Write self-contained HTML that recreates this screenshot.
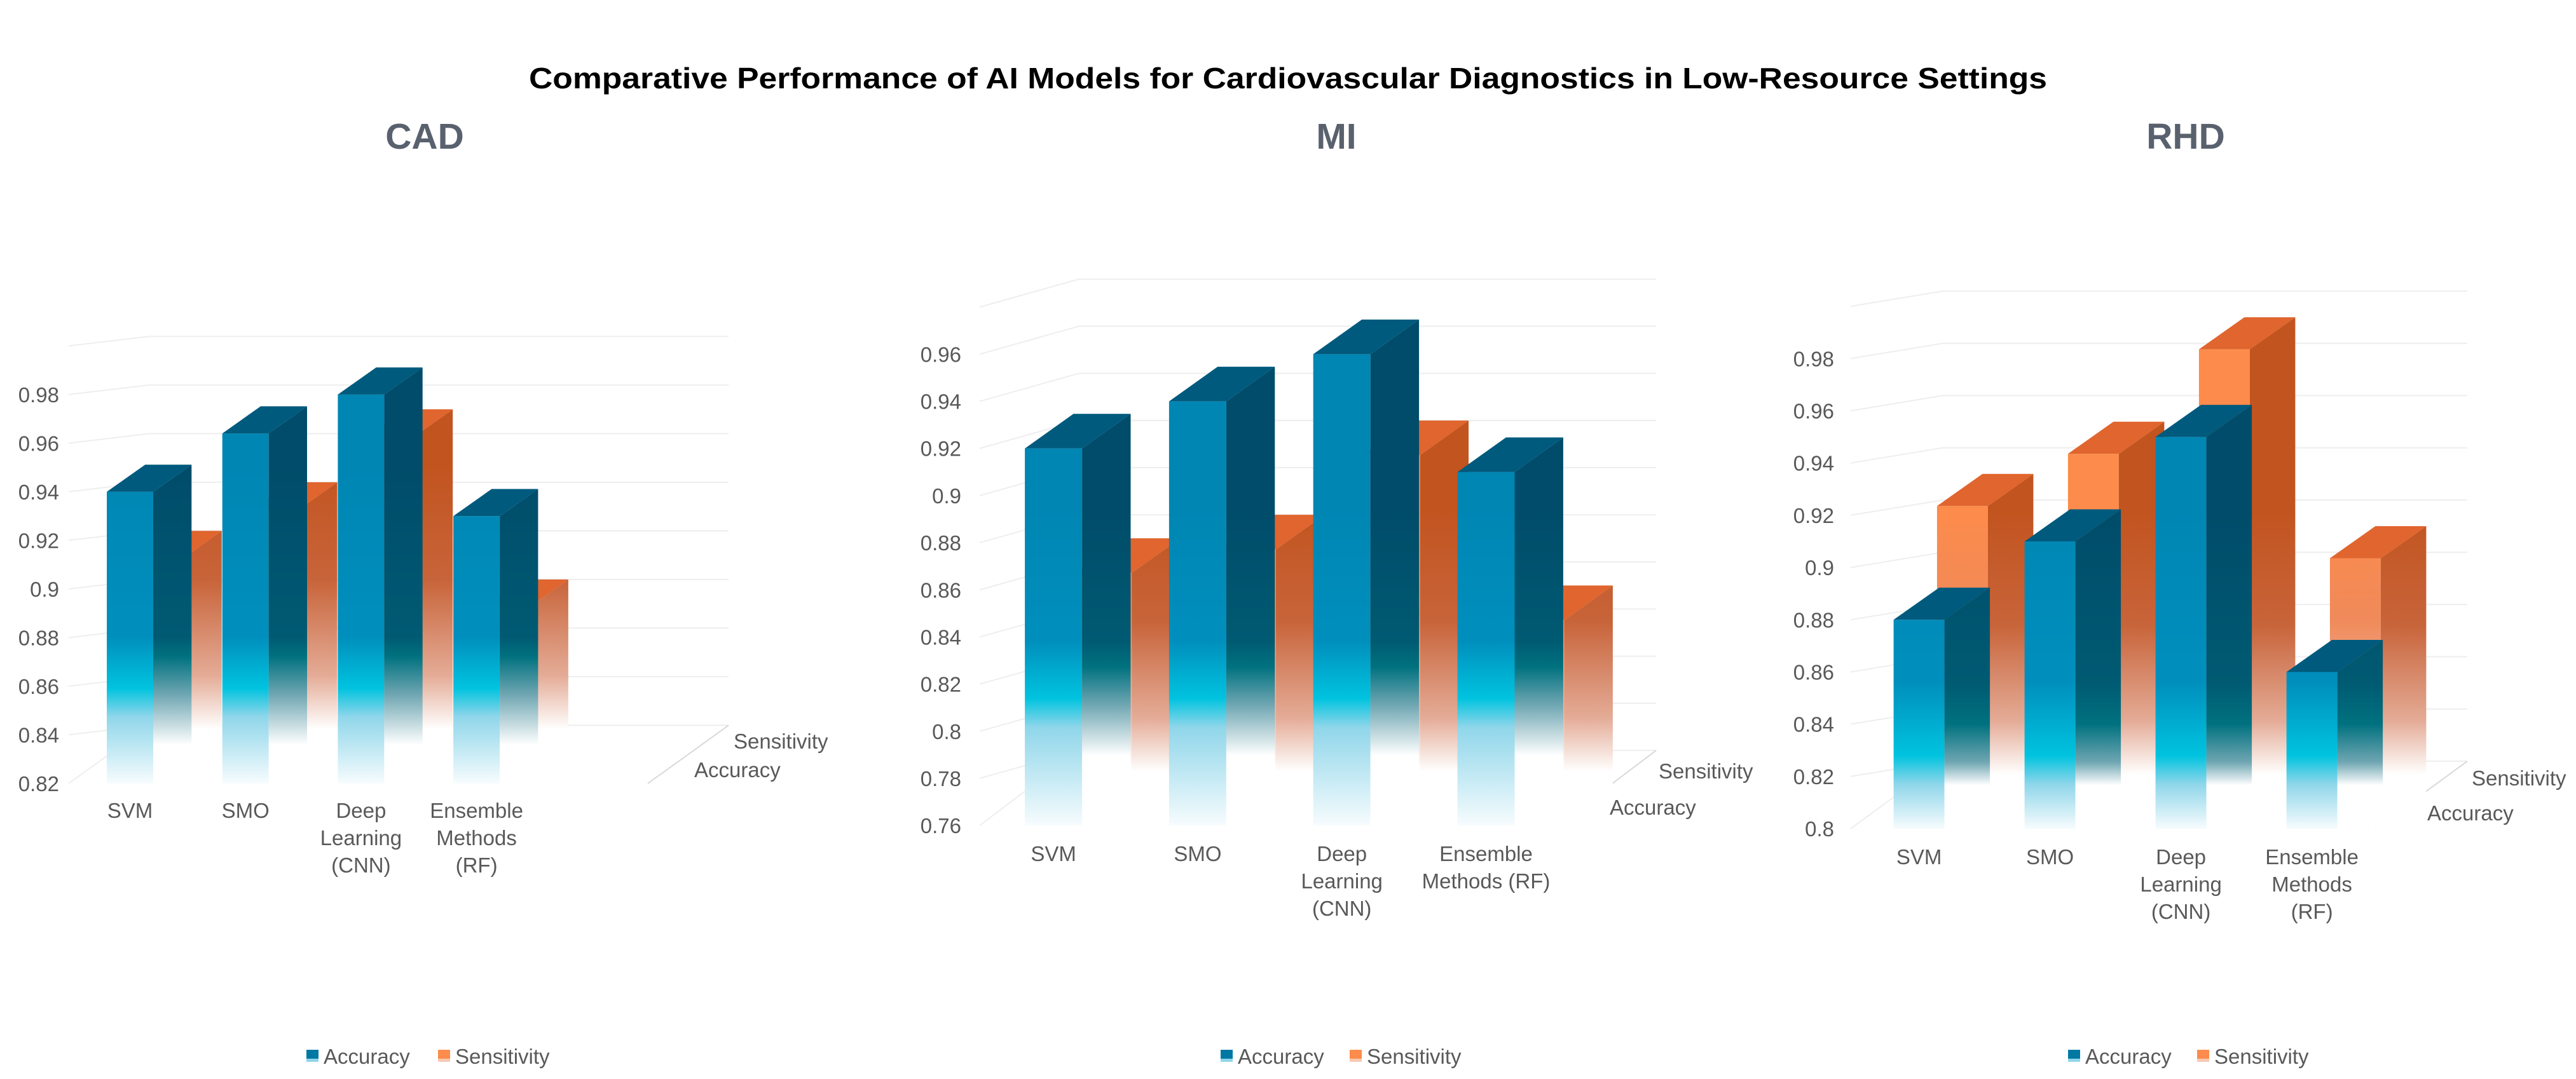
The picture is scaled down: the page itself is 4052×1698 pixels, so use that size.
<!DOCTYPE html>
<html><head><meta charset="utf-8">
<style>
html,body{margin:0;padding:0;background:#fff;}
svg{display:block;}
text{font-family:"Liberation Sans",Arial,sans-serif;}
</style></head>
<body>
<svg id="chart" xmlns="http://www.w3.org/2000/svg" width="4052" height="1698" viewBox="0 0 4052 1698">
<rect width="4052" height="1698" fill="#fff"/>
<defs id="defs"></defs>
<text x="2026" y="139" text-anchor="middle" font-size="46" font-weight="bold" fill="#000" textLength="2388" lengthAdjust="spacingAndGlyphs">Comparative Performance of AI Models for Cardiovascular Diagnostics in Low-Resource Settings</text>
</svg>
<script>
const categories = ["SVM", "SMO", "Deep Learning (CNN)", "Ensemble Methods (RF)"];
const cadAccuracy = [0.94, 0.964, 0.98, 0.93];
const cadSensitivity = [0.92, 0.94, 0.97, 0.90];
const miAccuracy = [0.92, 0.94, 0.96, 0.91];
const miSensitivity = [0.87, 0.88, 0.92, 0.85];
const rhdAccuracy = [0.88, 0.91, 0.95, 0.86];
const rhdSensitivity = [0.93, 0.95, 0.99, 0.91];
const cadTicks = [0.82, 0.84, 0.86, 0.88, 0.9, 0.92, 0.94, 0.96, 0.98];
const miTicks = [0.76, 0.78, 0.8, 0.82, 0.84, 0.86, 0.88, 0.9, 0.92, 0.94, 0.96];
const rhdTicks = [0.8, 0.82, 0.84, 0.86, 0.88, 0.9, 0.92, 0.94, 0.96, 0.98];
const seriesNames = ["Accuracy", "Sensitivity"];
const cadCatLines = [["SVM"], ["SMO"], ["Deep", "Learning", "(CNN)"], ["Ensemble", "Methods", "(RF)"]];
const miCatLines = [["SVM"], ["SMO"], ["Deep", "Learning", "(CNN)"], ["Ensemble", "Methods (RF)"]];
const rhdCatLines = [["SVM"], ["SMO"], ["Deep", "Learning", "(CNN)"], ["Ensemble", "Methods", "(RF)"]];

const NS = "http://www.w3.org/2000/svg";
const svg = document.getElementById("chart");
const defs = document.getElementById("defs");

function mk(tag, attrs, parent) {
  const e = document.createElementNS(NS, tag);
  for (const k in attrs) e.setAttribute(k, attrs[k]);
  (parent || svg).appendChild(e);
  return e;
}
function grad(id, F, stops) {
  const g = mk("linearGradient", {id: id, gradientUnits: "userSpaceOnUse", x1: 0, x2: 0, y1: F - 500, y2: F}, defs);
  stops.forEach(s => mk("stop", {offset: Math.max(0, Math.min(1, (500 - s[0]) / 500)), "stop-color": s[1]}, g));
}
function poly(pts, fill, parent) {
  return mk("polygon", {points: pts.map(p => p.join(",")).join(" "), fill: fill}, parent);
}

function drawPanel(cfg, acc, sens, ticks, catLines) {
  const p = cfg.id;
  const grp = mk("g", {});
  
  
  const L = v => cfg.y0 + (cfg.vRef - v) / 0.02 * cfg.step;
  const G = v => L(v) + cfg.g;
  const F = L(ticks[0]);
  const dx = cfg.dx, dy = cfg.dy, w = cfg.w;
  const sideWhite = Math.max(cfg.cyan - 90, -dy + 18);

  grad(p + "-bf", F, [[500, "#0086b3"], [cfg.solid, "#008fbd"], [cfg.cyan, "#00c3df"], [cfg.cyan - 45, "#8fd6ea"], [0, "#f7fcfe"]]);
  grad(p + "-bs", F, [[500, "#004c6a"], [cfg.solid, "#005a72"], [cfg.cyan + 50, "#00717f"], [cfg.cyan - 10, "#6fa6b2"], [sideWhite, "#ffffff"]]);
  grad(p + "-of", F, [[500, "#fd8b4b"], [330, "#f08a5a"], [170, "#f0b8a4"], [90, "#ffffff"]]);
  grad(p + "-os", F, [[500, "#c2541f"], [320, "#c8643a"], [170, "#e4ab96"], [Math.max(85, -dy + 20), "#ffffff"]]);

  const t = mk("text", {x: cfg.titleX, y: 234, "text-anchor": "middle", "font-size": 57, "font-weight": "bold", fill: "#59616e"}, grp);
  t.textContent = cfg.title;
  
  

  const gridG = mk("g", {stroke: "#eeeeee", "stroke-width": 2, fill: "none"}, grp);
  
  
  ticks.forEach(tv => {
    const v = tv + 0.02;
    mk("line", {x1: cfg.backLeft, x2: cfg.backRight, y1: G(v), y2: G(v)}, gridG);
    mk("line", {x1: cfg.axisX, x2: cfg.backLeft, y1: L(v), y2: G(v)}, gridG);
  });
  const fb = G(ticks[0] + 0.02);
  mk("line", {x1: cfg.axisX, x2: cfg.backLeft, y1: F, y2: fb}, gridG);
  const fl = mk("line", {x1: cfg.backRight - (cfg.backLeft - cfg.axisX), x2: cfg.backRight, y1: F, y2: fb, stroke: "#d9d9d9", "stroke-width": 2}, grp);
  
  

  ticks.forEach(tv => {
    const tx = mk("text", {x: cfg.labelRight, y: L(tv) + 12, "text-anchor": "end", "font-size": 33, fill: "#595959"}, grp);
    tx.textContent = String(tv);
    
    
  });

  sens.forEach((v, i) => {
    const x = cfg.x0 + i * cfg.sp + cfg.ox;
    const yt = G(v) - dy;
    const yb = F;
    const b = mk("g", {}, grp);
    
    
    poly([[x, yt], [x + w, yt], [x + w, yb], [x, yb]], "url(#" + p + "-of)", b);
    poly([[x + w, yt], [x + w + dx, yt + dy], [x + w + dx, yb + dy], [x + w, yb]], "url(#" + p + "-os)", b);
    poly([[x, yt], [x + w, yt], [x + w + dx, yt + dy], [x + dx, yt + dy]], "#e0652e", b);
  });
  acc.forEach((v, i) => {
    const x = cfg.x0 + i * cfg.sp;
    const yt = L(v);
    const yb = F;
    const b = mk("g", {}, grp);
    
    
    poly([[x, yt], [x + w, yt], [x + w, yb], [x, yb]], "url(#" + p + "-bf)", b);
    poly([[x + w, yt], [x + w + dx, yt + dy], [x + w + dx, yb + dy], [x + w, yb]], "url(#" + p + "-bs)", b);
    poly([[x, yt], [x + w, yt], [x + w + dx, yt + dy], [x + dx, yt + dy]], "#005a7d", b);
  });

  catLines.forEach((lines, i) => {
    const cx = cfg.x0 + i * cfg.sp + w / 2;
    const tx = mk("text", {x: cx, y: cfg.catY, "text-anchor": "middle", "font-size": 33, fill: "#595959"}, grp);
    
    
    lines.forEach((ln, j) => {
      const ts = mk("tspan", {x: cx, y: cfg.catY + j * 43}, tx);
      ts.textContent = ln;
    });
  });

  const s1 = mk("text", {x: cfg.sensX, y: cfg.sensY + 12, "font-size": 33, fill: "#595959"}, grp);
  s1.textContent = "Sensitivity";
  
  
  const s2 = mk("text", {x: cfg.accX, y: cfg.accY + 12, "font-size": 33, fill: "#595959"}, grp);
  s2.textContent = "Accuracy";
  
  

  const lg = mk("g", {}, grp);
  
  
  const e1 = mk("g", {}, lg);
  
  
  mk("rect", {x: cfg.legX, y: 1652, width: 19, height: 14, fill: "#0078a4"}, e1);
  mk("rect", {x: cfg.legX, y: 1666, width: 19, height: 5, fill: "#8fd6ea"}, e1);
  const lt1 = mk("text", {x: cfg.legX + 27, y: 1674, "font-size": 33, fill: "#595959"}, e1);
  lt1.textContent = seriesNames[0];
  const e2 = mk("g", {}, lg);
  
  
  mk("rect", {x: cfg.legX2, y: 1652, width: 19, height: 14, fill: "#fd8b4b"}, e2);
  mk("rect", {x: cfg.legX2, y: 1666, width: 19, height: 5, fill: "#f6c9b4"}, e2);
  const lt2 = mk("text", {x: cfg.legX2 + 27, y: 1674, "font-size": 33, fill: "#595959"}, e2);
  lt2.textContent = seriesNames[1];
}

drawPanel({id: "cad", title: "CAD", titleX: 668, y0: 620.9, vRef: 0.98, step: 76.5, g: -15,
  x0: 168, sp: 181.7, w: 73, dx: 60.3, dy: -42.7, ox: 47.5,
  axisX: 108, backLeft: 235, backRight: 1146, labelRight: 93,
  solid: 230, cyan: 150, catY: 1287,
  sensX: 1154, sensY: 1166, accX: 1092, accY: 1211, legX: 482, legX2: 689},
  cadAccuracy, cadSensitivity, cadTicks, cadCatLines);

drawPanel({id: "mi", title: "MI", titleX: 2102, y0: 557.4, vRef: 0.96, step: 74.17, g: -44,
  x0: 1612.1, sp: 226.8, w: 90, dx: 76.4, dy: -54.5, ox: 78,
  axisX: 1541, backLeft: 1697, backRight: 2605, labelRight: 1512,
  solid: 290, cyan: 200, catY: 1355,
  sensX: 2609, sensY: 1213, accX: 2532, accY: 1270, legX: 1920, legX2: 2123},
  miAccuracy, miSensitivity, miTicks, miCatLines);

drawPanel({id: "rhd", title: "RHD", titleX: 3438, y0: 564.3, vRef: 0.98, step: 82.2, g: -24,
  x0: 2978.6, sp: 206, w: 80, dx: 71.5, dy: -50.5, ox: 68.3,
  axisX: 2911, backLeft: 3056, backRight: 3881, labelRight: 2885,
  solid: 230, cyan: 115, catY: 1360,
  sensX: 3888, sensY: 1224, accX: 3818, accY: 1279, legX: 3253, legX2: 3456},
  rhdAccuracy, rhdSensitivity, rhdTicks, rhdCatLines);
</script>
</body></html>
